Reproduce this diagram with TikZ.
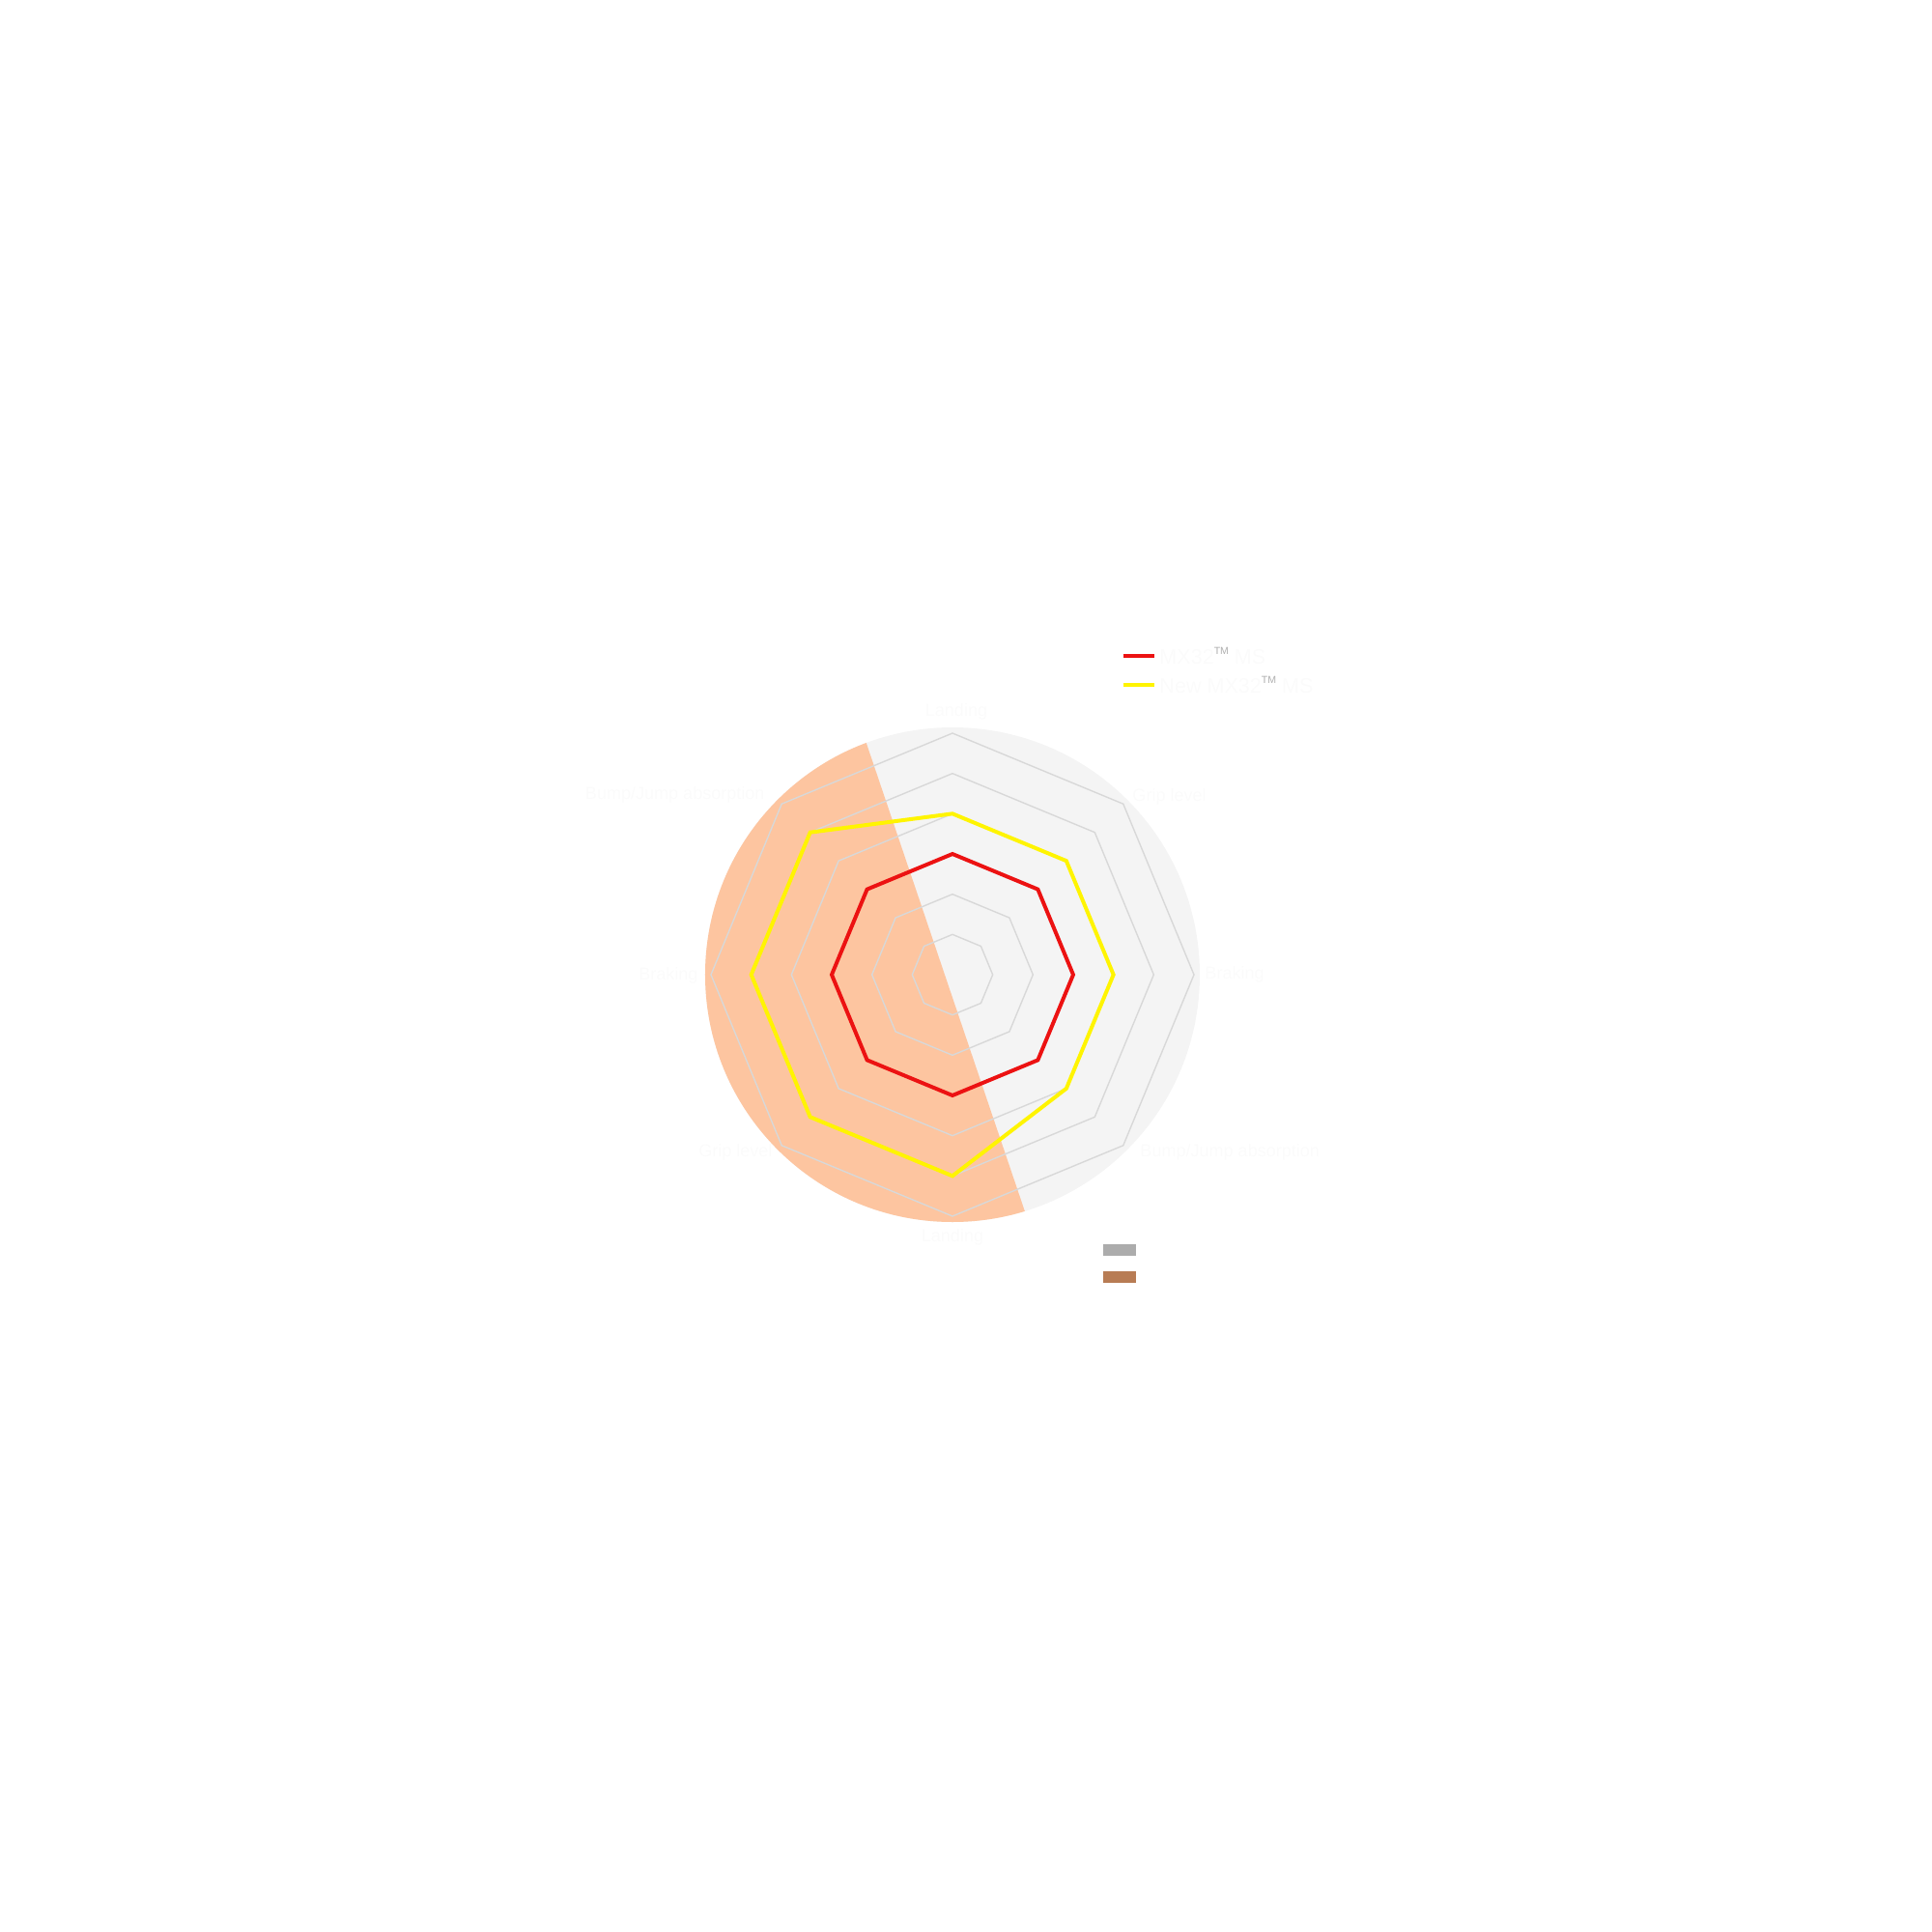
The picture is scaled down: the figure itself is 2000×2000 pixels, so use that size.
\documentclass[tikz,border=0pt]{standalone}
\usepackage{fontspec}
\setmainfont{Liberation Sans}
\definecolor{peach}{RGB}{253,197,160}
\definecolor{circlegray}{RGB}{244,244,244}
\definecolor{gridgray}{RGB}{216,216,216}
\definecolor{seriesred}{RGB}{236,18,18}
\definecolor{seriesyellow}{RGB}{255,244,0}
\definecolor{labelwhite}{RGB}{251,251,251}
\definecolor{tmgray}{RGB}{175,175,175}
\definecolor{swatchgray}{RGB}{172,172,172}
\definecolor{swatchbrown}{RGB}{184,124,84}
\begin{document}
\begin{tikzpicture}[x=0.15mm,y=0.15mm,
  lbl/.style={font=\fontsize{7.7}{9}\selectfont, text=labelwhite, inner sep=0pt},
  leg/.style={font=\fontsize{9.2}{11}\selectfont, text=labelwhite, inner sep=0pt, anchor=west},
  gridline/.style={draw=gridgray, line width=0.6pt, line join=miter},
  series/.style={line width=1.7pt, line join=miter},
  swatch/.style={inner sep=0pt, minimum width=34*0.15mm, minimum height=12*0.15mm}]
\useasboundingbox (-986,-991) rectangle (1014,1009);
% background disc and rotated half
\fill[circlegray] (0,0) circle (256);
\begin{scope}
  \clip (0,0) circle (256);
  \fill[peach, shift={(-8,0)}, rotate=18.7] (-300,-300) rectangle (0,300);
\end{scope}
% grid octagons
\foreach \k in {1,...,6} {
  \pgfmathsetmacro{\r}{250*\k/6}
  \draw[gridline] (90:\r) -- (135:\r) -- (180:\r) -- (225:\r) -- (270:\r) -- (315:\r) -- (0:\r) -- (45:\r) -- cycle;
}
% series
\coordinate (r1) at (90:125);  \coordinate (r2) at (45:125);
\coordinate (r3) at (0:125);   \coordinate (r4) at (-45:125);
\coordinate (r5) at (-90:125); \coordinate (r6) at (-135:125);
\coordinate (r7) at (180:125); \coordinate (r8) at (135:125);
\draw[series, seriesred] (r1) -- (r2) -- (r3) -- (r4) -- (r5) -- (r6) -- (r7) -- (r8) -- cycle;
\coordinate (y1) at (90:166.67);   \coordinate (y2) at (45:166.67);
\coordinate (y3) at (0:166.67);    \coordinate (y4) at (-45:166.67);
\coordinate (y5) at (-90:208.33);  \coordinate (y6) at (-135:208.33);
\coordinate (y7) at (180:208.33);  \coordinate (y8) at (135:208.33);
\draw[series, seriesyellow] (y1) -- (y2) -- (y3) -- (y4) -- (y5) -- (y6) -- (y7) -- (y8) -- cycle;
% axis labels
\node[lbl] (lTop) at (4,272) {Landing};
\node[lbl, anchor=west] (lUR) at (186,184) {Grip level};
\node[lbl, anchor=west] (lR) at (261,0) {Braking};
\node[lbl, anchor=west] (lLR) at (194,-184) {Bump/Jump absorption};
\node[lbl] (lBot) at (0,-272) {Landing};
\node[lbl, anchor=east] (lLL) at (-186,-184) {Grip level};
\node[lbl, anchor=east] (lL) at (-263,-1) {Braking};
\node[lbl, anchor=east] (lUL) at (-194,186) {Bump/Jump absorption};
% top legend
\coordinate (legA1) at (177,330); \coordinate (legA2) at (209,330);
\coordinate (legB1) at (177,300); \coordinate (legB2) at (209,300);
\draw[seriesred, line width=1.7pt] (legA1) -- (legA2);
\draw[seriesyellow, line width=1.7pt] (legB1) -- (legB2);
\node[leg] (legA) at (214,330) {MX32\raisebox{0.9ex}{\color{tmgray}\fontsize{4.5}{5}\selectfont TM} MS};
\node[leg] (legB) at (214,300) {New MX32\raisebox{0.9ex}{\color{tmgray}\fontsize{4.5}{5}\selectfont TM} MS};
% bottom legend swatches
\node[swatch, fill=swatchgray] (swA) at (173,-285) {};
\node[swatch, fill=swatchbrown] (swB) at (173,-313) {};
\end{tikzpicture}
\end{document}
